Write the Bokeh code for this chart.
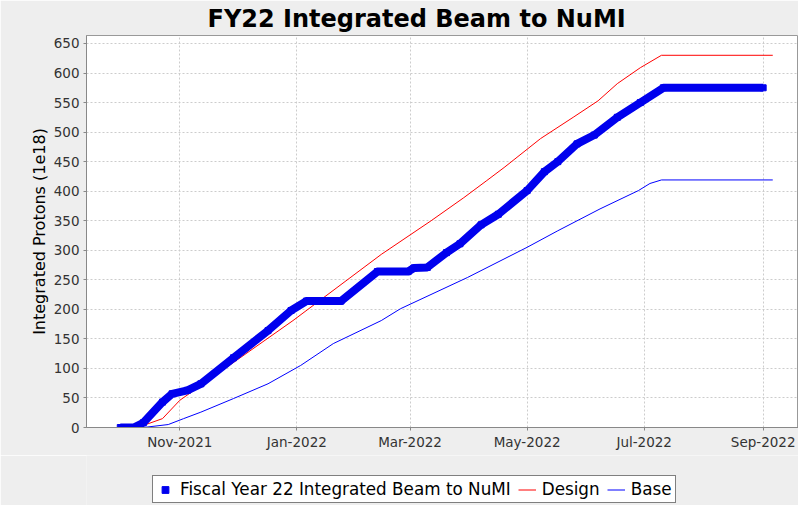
import pandas as pd
from bokeh.plotting import figure
from bokeh.layouts import column
from bokeh.models import (Range1d, MonthsTicker, DatetimeTickFormatter, SingleIntervalTicker,
                          Legend, LegendItem, ColumnDataSource)
from bokeh.embed import file_html
from bokeh.resources import INLINE

fy22_dates = ["2021-10-01", "2021-10-08", "2021-10-13", "2021-10-23", "2021-10-28", "2021-11-05",
              "2021-11-12", "2021-11-29", "2021-12-17", "2021-12-29", "2022-01-06", "2022-01-24",
              "2022-02-12", "2022-02-28", "2022-03-03", "2022-03-10", "2022-03-20", "2022-03-27",
              "2022-04-07", "2022-04-16", "2022-05-01", "2022-05-10", "2022-05-17", "2022-05-27",
              "2022-06-05", "2022-06-17", "2022-06-29", "2022-07-11", "2022-09-01"]
fy22_values = [0, 0, 8, 43, 57, 63, 74, 118, 164, 198, 214, 214, 264, 264, 270, 271, 296, 311,
               343, 361, 401, 433, 450, 480, 495, 525, 550, 575, 575]

design_dates = ["2021-10-01", "2021-10-10", "2021-10-23", "2021-11-01", "2021-12-30", "2022-02-14",
                "2022-03-12", "2022-03-29", "2022-04-10", "2022-04-19", "2022-05-08", "2022-05-25",
                "2022-06-07", "2022-06-17", "2022-06-29", "2022-07-10", "2022-09-06"]
design_values = [0, 0, 15, 46, 181, 293, 350, 389, 418, 440, 489, 525, 553, 582, 609, 630, 630]

base_dates = ["2021-10-01", "2021-10-13", "2021-10-26", "2021-11-03", "2021-11-12", "2021-11-29",
              "2021-12-17", "2022-01-03", "2022-01-20", "2022-02-14", "2022-02-24", "2022-03-31",
              "2022-05-01", "2022-05-17", "2022-06-08", "2022-06-28", "2022-07-04", "2022-07-10",
              "2022-09-06"]
base_values = [0, 0, 5, 15, 26, 49, 74, 105, 142, 181, 201, 254, 305, 333, 370, 401, 413, 419, 419]

title_text = "FY22 Integrated Beam to NuMI"
y_label = "Integrated Protons (1e18)"
series_labels = ["Fiscal Year 22 Integrated Beam to NuMI", "Design", "Base"]

FONT = "DejaVu Sans"
BG = "#eeeeee"
FY_COLOR = "#0000ee"
DESIGN_COLOR = "#ff0000"
BASE_COLOR = "#0000ff"

p = figure(width=798, height=455, output_backend="svg", toolbar_location=None,
           x_axis_type="datetime",
           x_range=Range1d(pd.Timestamp("2021-09-13 09:36"), pd.Timestamp("2022-09-19 10:00")),
           y_range=Range1d(0, 663.5),
           min_border_left=86, min_border_right=0, min_border_bottom=28, min_border_top=35)

p.title.text = title_text
p.title.align = "left"
p.title.offset = 121
p.title.text_font = FONT
p.title.text_font_size = "24px"
p.title.text_font_style = "bold"
p.title.text_color = "#000000"
p.title.standoff = 5

p.border_fill_color = BG
p.background_fill_color = "#ffffff"
p.outline_line_color = "#999999"

p.xaxis.ticker = MonthsTicker(months=[0, 2, 4, 6, 8, 10])
p.xaxis.formatter = DatetimeTickFormatter(months="%b-%Y", days="%b-%Y", years="%b-%Y")
p.yaxis.ticker = SingleIntervalTicker(interval=50)

for ax in (p.xaxis, p.yaxis):
    ax.axis_line_color = "#888888"
    ax.major_tick_line_color = "#888888"
    ax.major_tick_out = 3
    ax.major_tick_in = 0
    ax.minor_tick_line_color = None
    ax.major_label_text_font = FONT
    ax.major_label_text_font_size = "13.5px"
    ax.major_label_text_color = "#333333"
    ax.major_label_standoff = 3

p.yaxis.axis_label = y_label
p.yaxis.axis_label_text_font = FONT
p.yaxis.axis_label_text_font_size = "16px"
p.yaxis.axis_label_text_font_style = "normal"
p.yaxis.axis_label_text_color = "#000000"
p.yaxis.axis_label_standoff = 2

for g in (p.xgrid, p.ygrid):
    g.grid_line_color = "#cccccc"
    g.grid_line_dash = "2 2"
    g.grid_line_width = 1

fy_src = ColumnDataSource(dict(x=pd.to_datetime(fy22_dates), y=fy22_values))
de_src = ColumnDataSource(dict(x=pd.to_datetime(design_dates), y=design_values))
ba_src = ColumnDataSource(dict(x=pd.to_datetime(base_dates), y=base_values))

p.line("x", "y", source=de_src, line_color=DESIGN_COLOR, line_width=1)
p.line("x", "y", source=ba_src, line_color=BASE_COLOR, line_width=1)
p.line("x", "y", source=fy_src, line_color=FY_COLOR, line_width=8, line_join="round")
p.scatter("x", "y", source=fy_src, marker="square", size=6, color=FY_COLOR)

# legend strip below the chart (its key renderers use the same data, outside this strip's view)
q = figure(width=798, height=50, output_backend="svg", toolbar_location=None,
           x_range=Range1d(0, 1), y_range=Range1d(0, 1),
           min_border_left=0, min_border_right=0, min_border_top=0, min_border_bottom=0)
q.axis.visible = False
q.grid.visible = False
q.outline_line_color = None
q.border_fill_color = BG
q.background_fill_color = BG

k_fy = q.scatter("x", "y", source=fy_src, marker="square", size=5, color=FY_COLOR)
k_design = q.line("x", "y", source=de_src, line_color=DESIGN_COLOR, line_width=1)
k_base = q.line("x", "y", source=ba_src, line_color=BASE_COLOR, line_width=1)

legend = Legend(items=[LegendItem(label=series_labels[0], renderers=[k_fy]),
                       LegendItem(label=series_labels[1], renderers=[k_design]),
                       LegendItem(label=series_labels[2], renderers=[k_base])],
                location=(66, 2), orientation="horizontal",
                label_text_font=FONT, label_text_font_size="16.8px", label_text_color="#000000",
                border_line_color="#000000", border_line_width=1,
                background_fill_color="#ffffff", background_fill_alpha=1.0,
                padding=3, spacing=7, glyph_width=18, glyph_height=17, label_standoff=6,
                margin=0)
q.add_layout(legend, "center")

layout = column(p, q, spacing=0)
open("out.html", "w").write(file_html(layout, INLINE))
